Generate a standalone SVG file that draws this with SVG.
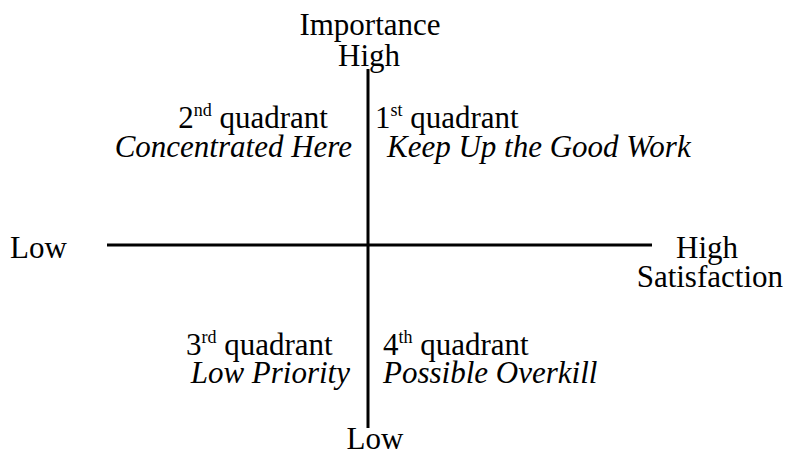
<svg xmlns="http://www.w3.org/2000/svg" width="787" height="452" viewBox="0 0 787 452">
<style>
.i{font-style:italic}
.sup{font-size:18px}
.ax{stroke:#000;stroke-width:3;fill:none}
</style>
<rect width="787" height="452" fill="#fff"/>
<g id="connectors">
<line class="ax" x1="368" y1="69" x2="368" y2="428"/>
<line class="ax" x1="107" y1="245" x2="652" y2="245"/>
</g>
<g font-family="Liberation Serif, Tinos, Times New Roman, Nimbus Roman, DejaVu Serif, serif" font-size="31" fill="#000">
<g id="axis-top">
<text x="370" y="35" text-anchor="middle">Importance</text>
<text x="369" y="66" text-anchor="middle">High</text>
</g>
<g id="axis-bottom"><text x="375" y="449" text-anchor="middle">Low</text></g>
<g id="axis-left"><text x="10" y="258">Low</text></g>
<g id="axis-right">
<text x="707" y="258" text-anchor="middle">High</text>
<text x="783" y="287" text-anchor="end">Satisfaction</text>
</g>
<g id="q2">
<text x="328" y="128" text-anchor="end">2<tspan class="sup" dy="-12">nd</tspan><tspan dy="12"> quadrant</tspan></text>
<text class="i" x="352" y="157" text-anchor="end">Concentrated Here</text>
</g>
<g id="q1">
<text x="375" y="128">1<tspan class="sup" dy="-12">st</tspan><tspan dy="12"> quadrant</tspan></text>
<text class="i" x="387" y="157">Keep Up the Good Work</text>
</g>
<g id="q3">
<text x="186" y="355">3<tspan class="sup" dy="-12">rd</tspan><tspan dy="12"> quadrant</tspan></text>
<text class="i" x="350" y="383" text-anchor="end">Low Priority</text>
</g>
<g id="q4">
<text x="383" y="355">4<tspan class="sup" dy="-12">th</tspan><tspan dy="12"> quadrant</tspan></text>
<text class="i" x="383" y="383">Possible Overkill</text>
</g>
</g>
</svg>
